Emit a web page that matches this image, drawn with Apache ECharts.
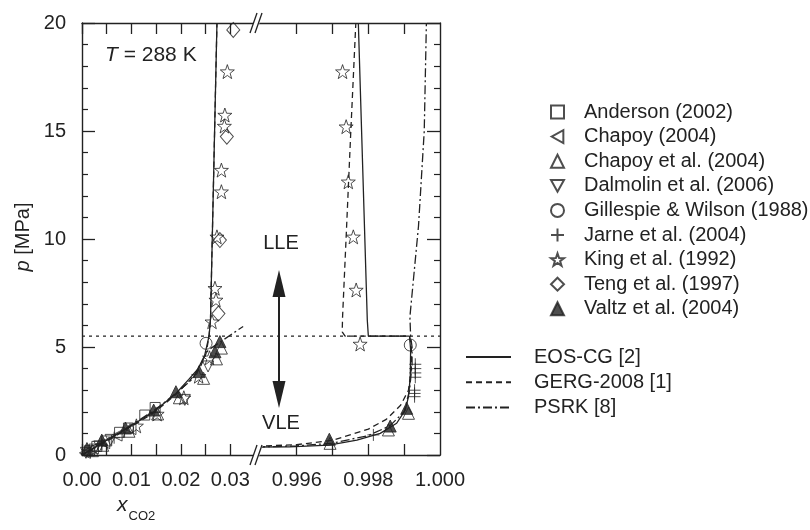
<!DOCTYPE html>
<html>
<head>
<meta charset="utf-8">
<script src="https://cdn.jsdelivr.net/npm/echarts@6/dist/echarts.min.js"></script>
<style>html,body{margin:0;background:#fff}#main{width:810px;height:530px}</style>
</head>
<body>
<div id="main"></div>
<script>
// x-axis is broken: left part 0 .. 0.035, right part 0.995 .. 1.000
var leftMax = 0.0352;
var rightMin = 0.994863;
var threePhaseP = 5.5;

// model lines [x, p]
var eosLeft = [[0,0],[0.004,0.55],[0.009,1.22],[0.0145,2.0],[0.019,2.85],[0.0216,3.5],[0.0235,4.0],[0.0248,4.6],[0.0257,5.5],[0.026,6.3],[0.0273,20]];
var eosRight = [[0.994863,0.37],[0.9958,0.38],[0.9969,0.46],[0.99768,0.69],[0.99833,1.0],[0.99879,1.47],[0.99903,2.08],[0.99912,2.7],[0.99917,3.63],[0.99918,4.86],[0.99915,5.5],[0.998,5.5],[0.99797,6.25],[0.99772,20]];
var gergLeft = [[0,0],[0.004,0.5],[0.009,1.18],[0.0145,1.95],[0.019,2.8],[0.0218,3.45],[0.0238,4.0],[0.0251,4.7],[0.0257,5.5],[0.026,6.3],[0.0273,20]];
var gergRight = [[0.994863,0.40],[0.996,0.48],[0.997,0.68],[0.998,1.2],[0.9985,1.65],[0.9989,2.3],[0.99912,3.0],[0.9992,4.0],[0.9992,5.0],[0.99915,5.5],[0.99735,5.5],[0.99727,5.7],[0.99728,6.4],[0.99738,10.1],[0.99751,15],[0.99765,20]];
var psrkLeft = [[0,0],[0.004,0.55],[0.009,1.25],[0.0145,2.05],[0.019,2.85],[0.0225,3.55],[0.0255,4.85],[0.0326,5.95]];
var psrkRight = [[0.994863,0.37],[0.996,0.42],[0.997,0.55],[0.998,0.9],[0.9986,1.35],[0.999,2.0],[0.99915,3.0],[0.99922,4.2],[0.99922,5.0],[0.99918,5.5],[0.99916,6.4],[0.9994,10.6],[0.99956,15.0],[0.99962,20]];

// experimental data [x, p]
var andersonL = [[0.0015,0.2],[0.003,0.4],[0.005,0.65],[0.0076,1.05],[0.0094,1.25],[0.0127,1.85],[0.0148,2.2]];
var chapoyL = [[0.0006,0.1],[0.0022,0.3],[0.0045,0.55],[0.007,0.9],[0.0098,1.2]];
var chapoyEtAlL = [[0.0021,0.2],[0.0042,0.45],[0.0095,1.1],[0.0153,1.9],[0.0197,2.65],[0.0246,3.55],[0.0272,4.45],[0.0282,4.95]];
var chapoyEtAlR = [[0.99912,1.93],[0.99856,1.16],[0.99693,0.54]];
var dalmolinL = [[0.0008,0.1],[0.0025,0.25],[0.0035,0.4],[0.0058,0.7],[0.0208,2.55],[0.0255,4.1]];
var gillespieL = [[0.0251,5.17]];
var gillespieR = [[0.99917,5.09]];
var jarneL = [[0.0015,0.2],[0.004,0.5],[0.0065,0.8]];
var jarneR = [[0.99931,4.2],[0.99931,4.0],[0.99931,3.8],[0.99931,3.6],[0.99929,3.0],[0.99929,2.85],[0.99929,2.7],[0.99814,0.93]];
var kingL = [[0.0294,17.75],[0.0289,15.74],[0.0288,15.23],[0.0282,13.19],[0.0282,12.19],[0.0273,10.1],[0.0269,7.72],[0.0271,7.18],[0.0263,6.17],[0.0258,4.5],[0.0236,3.65],[0.0206,2.65],[0.0152,1.9],[0.011,1.35]];
var kingR = [[0.99728,17.75],[0.99738,15.2],[0.99744,12.65],[0.99758,10.1],[0.99766,7.64],[0.99777,5.14]];
var tengL = [[0.0306,19.68],[0.0293,14.74],[0.0279,9.95],[0.0276,6.55]];
var valtzL = [[0.001,0.3],[0.004,0.69],[0.0088,1.25],[0.0145,2.08],[0.019,2.93],[0.0237,3.86],[0.0269,4.78],[0.0279,5.25]];
var valtzR = [[0.99907,2.16],[0.99861,1.34],[0.99691,0.73]];

var leftTicks = [0,0.005,0.01,0.015,0.02,0.025,0.03];
var leftLabels = [0,0.01,0.02,0.03];
var rightTicks = [0.996,0.997,0.998,0.999];
var rightLabels = [0.996,0.998,1.0];

var ink = '#222';
var font = '"Liberation Sans", Arial, sans-serif';
var starPath = 'path://M10,0L12.35,6.76L19.51,6.91L13.8,11.24L15.88,18.09L10,14L4.12,18.09L6.2,11.24L0.49,6.91L7.65,6.76Z';
var plusPath = 'path://M0,5L10,5M5,0L5,10';
var leftTriPath = 'path://M0,5L9,0L9,10Z';
var downTriPath = 'path://M0,0L10,0L5,9Z';

var chart = echarts.init(document.getElementById('main'));

function xAx(grid, pos, min, max, ticks, labels, digits) {
  return {
    type: 'value', gridIndex: grid, position: pos, min: min, max: max,
    axisLine: { show: true, onZero: false, lineStyle: { color: ink, width: 1.4 } },
    axisTick: { show: true, inside: true, length: 11, customValues: ticks, lineStyle: { color: ink, width: 1.3 } },
    axisLabel: labels ? { customValues: labels, fontSize: 20, color: ink, fontFamily: font, margin: 15,
      formatter: function (v) { return (+v).toFixed(digits); } } : { show: false },
    splitLine: { show: false }
  };
}
function yAx(grid, pos, labels) {
  return {
    type: 'value', gridIndex: grid, position: pos, min: 0, max: 20, interval: 5,
    axisLine: { show: true, onZero: false, lineStyle: { color: ink, width: 1.4 } },
    axisTick: { show: true, inside: true, length: 13, lineStyle: { color: ink, width: 1.3 } },
    minorTick: { show: true, splitNumber: 5, length: 6, lineStyle: { color: ink, width: 1.2 } },
    axisLabel: labels ? { fontSize: 20, color: ink, fontFamily: font, margin: 16 } : { show: false },
    splitLine: { show: false }, minorSplitLine: { show: false }
  };
}

var series = [];
function line(name, type, left, right) {
  [left, right].forEach(function (d, i) {
    series.push({
      name: name, type: 'line', xAxisIndex: i * 2, yAxisIndex: i, data: d,
      symbol: 'none', showSymbol: false, z: 2,
      lineStyle: { color: ink, width: 1.3, type: type },
      itemStyle: { color: ink }
    });
  });
}
function scat(name, symbol, size, filled, left, right) {
  [left, right].forEach(function (d, i) {
    if (!d) return;
    series.push({
      name: name, type: 'scatter', xAxisIndex: i * 2, yAxisIndex: i, data: d,
      symbol: symbol, symbolSize: size, z: 3,
      itemStyle: { color: filled ? ink : 'rgba(255,255,255,0)', borderColor: ink, borderWidth: 1 }
    });
  });
}

// dotted three-phase line
series.push({ type: 'line', xAxisIndex: 0, yAxisIndex: 0, data: [[0, threePhaseP], [leftMax, threePhaseP]], symbol: 'none', z: 1, lineStyle: { color: ink, width: 1.3, type: [3, 4] } });
series.push({ type: 'line', xAxisIndex: 2, yAxisIndex: 1, data: [[rightMin, threePhaseP], [1, threePhaseP]], symbol: 'none', z: 1, lineStyle: { color: ink, width: 1.3, type: [3, 4] } });

line('EOS-CG [2]', 'solid', eosLeft, eosRight);
line('GERG-2008 [1]', [6, 4], gergLeft, gergRight);
line('PSRK [8]', [9, 3, 2, 3], psrkLeft, psrkRight);

scat('Anderson (2002)', 'rect', 10, false, andersonL, null);
scat('Chapoy (2004)', leftTriPath, 11, false, chapoyL, null);
scat('Chapoy et al. (2004)', 'triangle', 12, false, chapoyEtAlL, chapoyEtAlR);
scat('Dalmolin et al. (2006)', downTriPath, 11, false, dalmolinL, null);
scat('Gillespie & Wilson (1988)', 'circle', 12, false, gillespieL, gillespieR);
scat('Jarne et al. (2004)', plusPath, 12, false, jarneL, jarneR);
scat('King et al. (1992)', starPath, 14, false, kingL, kingR);
scat('Teng et al. (1997)', 'diamond', [13, 15], false, tengL, null);
scat('Valtz et al. (2004)', 'triangle', 12, true, valtzL, valtzR);

var markerNames = ['Anderson (2002)', 'Chapoy (2004)', 'Chapoy et al. (2004)', 'Dalmolin et al. (2006)',
  'Gillespie & Wilson (1988)', 'Jarne et al. (2004)', 'King et al. (1992)', 'Teng et al. (1997)', 'Valtz et al. (2004)'];
var lineNames = ['EOS-CG [2]', 'GERG-2008 [1]', 'PSRK [8]'];

function breakMark(y) {
  return [
    { type: 'polygon', shape: { points: [[250, y + 10], [256, y + 10], [263, y - 10], [257, y - 10]] }, style: { fill: '#fff' }, z: 100 },
    { type: 'line', shape: { x1: 250, y1: y + 10, x2: 257, y2: y - 10 }, style: { stroke: ink, lineWidth: 1.3 }, z: 101 },
    { type: 'line', shape: { x1: 255, y1: y + 10, x2: 262, y2: y - 10 }, style: { stroke: ink, lineWidth: 1.3 }, z: 101 }
  ];
}

var option = {
  animation: false,
  backgroundColor: '#fff',
  textStyle: { fontFamily: font },
  grid: [
    { left: 82, top: 23, width: 174, height: 432 },
    { left: 256, top: 23, width: 184, height: 432 }
  ],
  xAxis: [
    xAx(0, 'bottom', 0, leftMax, leftTicks, leftLabels, 2),
    xAx(0, 'top', 0, leftMax, leftTicks, null),
    xAx(1, 'bottom', rightMin, 1, rightTicks, rightLabels, 3),
    xAx(1, 'top', rightMin, 1, rightTicks, null)
  ],
  yAxis: [yAx(0, 'left', true), yAx(1, 'right', false)],
  legend: [
    { data: markerNames, orient: 'vertical', left: 550, top: 102, padding: 0, itemWidth: 13, itemHeight: 13, itemGap: 4.6,
      selectedMode: false, textStyle: { fontSize: 20, color: ink, fontFamily: font, lineHeight: 20, padding: [0, 0, 0, 15] } },
    { data: lineNames, orient: 'vertical', left: 465, top: 347, padding: 0, itemWidth: 45, itemHeight: 12, itemGap: 5.3,
      itemStyle: { opacity: 0 },
      selectedMode: false, textStyle: { fontSize: 20, color: ink, fontFamily: font, lineHeight: 20, padding: [0, 0, 0, 18] } }
  ],
  graphic: breakMark(455).concat(breakMark(23)).concat([
    { type: 'text', left: 105, top: 45, z: 50,
      style: { text: '{i|T} = 288 K', fill: ink, font: '21px ' + font,
        rich: { i: { fontStyle: 'italic', fontSize: 21, fontFamily: font, fill: ink } } } },
    { type: 'text', x: 23, y: 237, rotation: Math.PI / 2, z: 50,
      style: { text: '{i|p} [MPa]', fill: ink, font: '20px ' + font, align: 'center', verticalAlign: 'middle',
        rich: { i: { fontStyle: 'italic', fontSize: 20, fontFamily: font, fill: ink } } } },
    { type: 'text', x: 117, y: 505, z: 50,
      style: { text: '{i|x}{s|CO2}', fill: ink, font: '20px ' + font, verticalAlign: 'middle',
        rich: { i: { fontStyle: 'italic', fontSize: 21, fontFamily: font, fill: ink },
                s: { fontSize: 13, fontFamily: font, fill: ink, padding: [22, 0, 0, 1] } } } },
    { type: 'text', x: 281, y: 243, z: 50,
      style: { text: 'LLE', fill: ink, font: '20px ' + font, align: 'center', verticalAlign: 'middle' } },
    { type: 'text', x: 281, y: 423, z: 50,
      style: { text: 'VLE', fill: ink, font: '20px ' + font, align: 'center', verticalAlign: 'middle' } },
    { type: 'line', shape: { x1: 279, y1: 295, x2: 279, y2: 383 }, style: { stroke: ink, lineWidth: 2 }, z: 50 },
    { type: 'polygon', shape: { points: [[279, 270], [285.5, 297], [272.5, 297]] }, style: { fill: ink }, z: 50 },
    { type: 'polygon', shape: { points: [[279, 408], [285.5, 381], [272.5, 381]] }, style: { fill: ink }, z: 50 }
  ]),
  series: series
};
chart.setOption(option);
</script>
</body>
</html>
